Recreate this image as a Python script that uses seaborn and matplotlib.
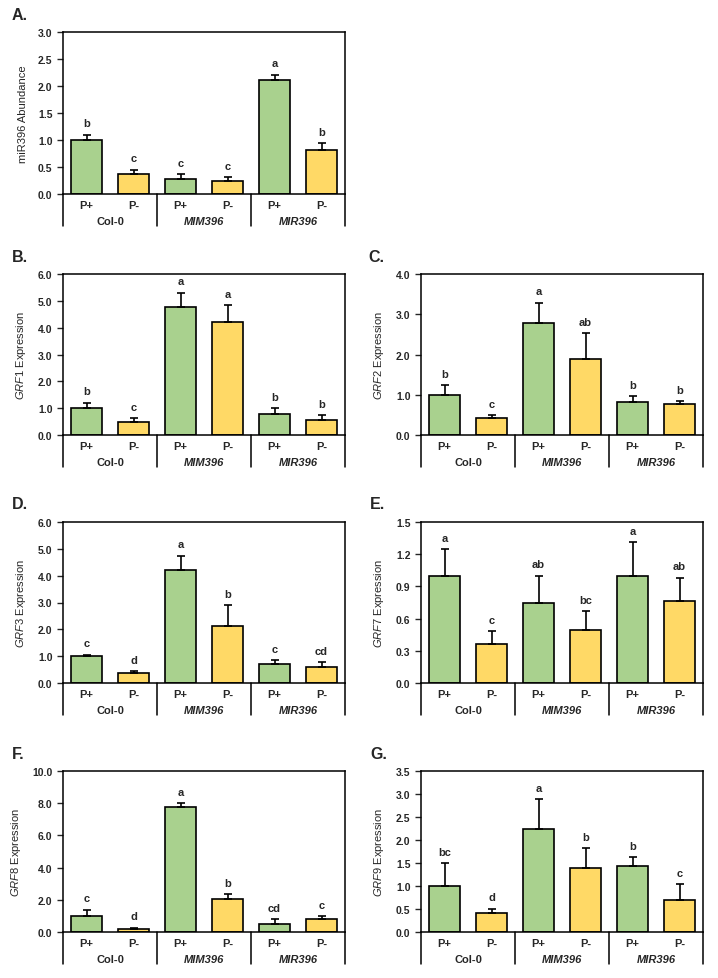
import matplotlib
matplotlib.use('Agg')
import matplotlib.pyplot as plt
import matplotlib.transforms as mtransforms
import numpy as np
import pandas as pd
import seaborn as sns

genotypes = ['Col-0', 'MIM396', 'MIR396']
treatments = ['P+', 'P-']

# means / upper error / significance letters, order: Col-0 P+, P-, MIM396 P+, P-, MIR396 P+, P-
mir396_mean = [1.00, 0.37, 0.27, 0.24, 2.11, 0.82]
mir396_err = [0.10, 0.08, 0.10, 0.07, 0.10, 0.12]
mir396_sig = ['b', 'c', 'c', 'c', 'a', 'b']

grf1_mean = [1.00, 0.49, 4.76, 4.20, 0.77, 0.57]
grf1_err = [0.21, 0.13, 0.55, 0.64, 0.23, 0.16]
grf1_sig = ['b', 'c', 'a', 'a', 'b', 'b']

grf2_mean = [1.00, 0.41, 2.78, 1.88, 0.81, 0.76]
grf2_err = [0.24, 0.09, 0.51, 0.65, 0.15, 0.08]
grf2_sig = ['b', 'c', 'a', 'ab', 'b', 'b']

grf3_mean = [1.00, 0.385, 4.22, 2.12, 0.72, 0.61]
grf3_err = [0.06, 0.065, 0.53, 0.77, 0.12, 0.16]
grf3_sig = ['c', 'd', 'a', 'b', 'c', 'cd']

grf7_mean = [1.00, 0.36, 0.75, 0.49, 1.00, 0.76]
grf7_err = [0.25, 0.12, 0.25, 0.18, 0.31, 0.22]
grf7_sig = ['a', 'c', 'ab', 'bc', 'a', 'ab']

grf8_mean = [1.00, 0.19, 7.77, 2.06, 0.52, 0.80]
grf8_err = [0.38, 0.08, 0.25, 0.27, 0.26, 0.17]
grf8_sig = ['c', 'd', 'a', 'b', 'cd', 'c']

grf9_mean = [1.00, 0.41, 2.25, 1.385, 1.44, 0.685]
grf9_err = [0.49, 0.10, 0.64, 0.435, 0.19, 0.355]
grf9_sig = ['bc', 'd', 'a', 'b', 'b', 'c']

colors = {'P+': '#a9d18e', 'P-': '#ffd966'}

sns.set_style('ticks')
plt.rcParams['font.family'] = ['Liberation Sans', 'DejaVu Sans']
plt.rcParams['mathtext.fontset'] = 'custom'
plt.rcParams['mathtext.it'] = 'Liberation Sans:italic'
plt.rcParams['mathtext.rm'] = 'Liberation Sans'

W, H = 718, 979
fig = plt.figure(figsize=(W / 100, H / 100), dpi=100)


def draw_panel(tag, tag_xy, box, means, errs, sig, ylabel, ymax, ystep):
    left, top, right, bottom = box
    ax = fig.add_axes([left / W, 1 - bottom / H, (right - left) / W, (bottom - top) / H])
    h_px = bottom - top
    df = pd.DataFrame({
        'cond': [f'{g} {t}' for g in genotypes for t in treatments],
        'treat': [t for g in genotypes for t in treatments],
        'value': means,
    })
    sns.barplot(data=df, x='cond', y='value', hue='treat', palette=colors,
                dodge=False, width=0.68, saturation=1, edgecolor='black',
                linewidth=1.2, legend=False, ax=ax)
    xs = np.arange(len(means))
    ax.errorbar(xs, means, yerr=[np.zeros(len(errs)), errs], fmt='none',
                ecolor='black', elinewidth=1.2, capsize=3, capthick=1.2, zorder=3)
    for x, m, e, s in zip(xs, means, errs, sig):
        ax.annotate(s, xy=(x, m + e), xytext=(0, 6), textcoords='offset points',
                    ha='center', va='baseline', fontsize=8, fontweight='bold')
    ax.set_xlim(-0.5, 5.5)
    ax.set_ylim(0, ymax)
    ax.set_xticks([])
    ax.set_xlabel('')
    ticks = np.arange(0, ymax + ystep / 2, ystep)
    ax.set_yticks(ticks)
    ax.set_yticklabels([f'{t:.1f}' for t in ticks], fontsize=7.5, fontweight='bold')
    ax.tick_params(axis='y', direction='out', length=4, width=1)
    ax.set_ylabel(ylabel, fontsize=8, labelpad=7)
    for sp in ax.spines.values():
        sp.set_visible(True)
        sp.set_linewidth(1.1)
        sp.set_color('black')

    trans = mtransforms.blended_transform_factory(ax.transData, ax.transAxes)
    for xv in [-0.5, 1.5, 3.5, 5.5]:
        ax.plot([xv, xv], [0, -32 / h_px], transform=trans, color='black',
                lw=1.1, clip_on=False)
    for x, t in zip(xs, [t for g in genotypes for t in treatments]):
        ax.text(x, -11 / h_px, t, transform=trans, ha='center', va='center',
                fontsize=8, fontweight='bold')
    for i, g in enumerate(genotypes):
        ax.text(2 * i + 0.5, -27 / h_px, g, transform=trans, ha='center', va='center',
                fontsize=8, fontweight='bold',
                fontstyle='normal' if g == 'Col-0' else 'italic')
    fig.text(tag_xy[0] / W, 1 - tag_xy[1] / H, tag, fontsize=11.5, fontweight='bold',
             ha='left', va='center')
    return ax


draw_panel('A.', (12, 15), (63, 33, 345, 195), mir396_mean, mir396_err, mir396_sig,
           'miR396 Abundance', 3.0, 0.5)
draw_panel('B.', (12, 257), (63, 275, 345, 436), grf1_mean, grf1_err, grf1_sig,
           r'$\mathit{GRF1}$ Expression', 6.0, 1.0)
draw_panel('C.', (368, 257), (421, 275, 703, 436), grf2_mean, grf2_err, grf2_sig,
           r'$\mathit{GRF2}$ Expression', 4.0, 1.0)
draw_panel('D.', (12, 505), (63, 523, 345, 684), grf3_mean, grf3_err, grf3_sig,
           r'$\mathit{GRF3}$ Expression', 6.0, 1.0)
draw_panel('E.', (370, 505), (421, 523, 703, 684), grf7_mean, grf7_err, grf7_sig,
           r'$\mathit{GRF7}$ Expression', 1.5, 0.3)
draw_panel('F.', (12, 755), (63, 772, 345, 933), grf8_mean, grf8_err, grf8_sig,
           r'$\mathit{GRF8}$ Expression', 10.0, 2.0)
draw_panel('G.', (370, 755), (421, 772, 703, 933), grf9_mean, grf9_err, grf9_sig,
           r'$\mathit{GRF9}$ Expression', 3.5, 0.5)

fig.savefig('out.png', dpi=100)
